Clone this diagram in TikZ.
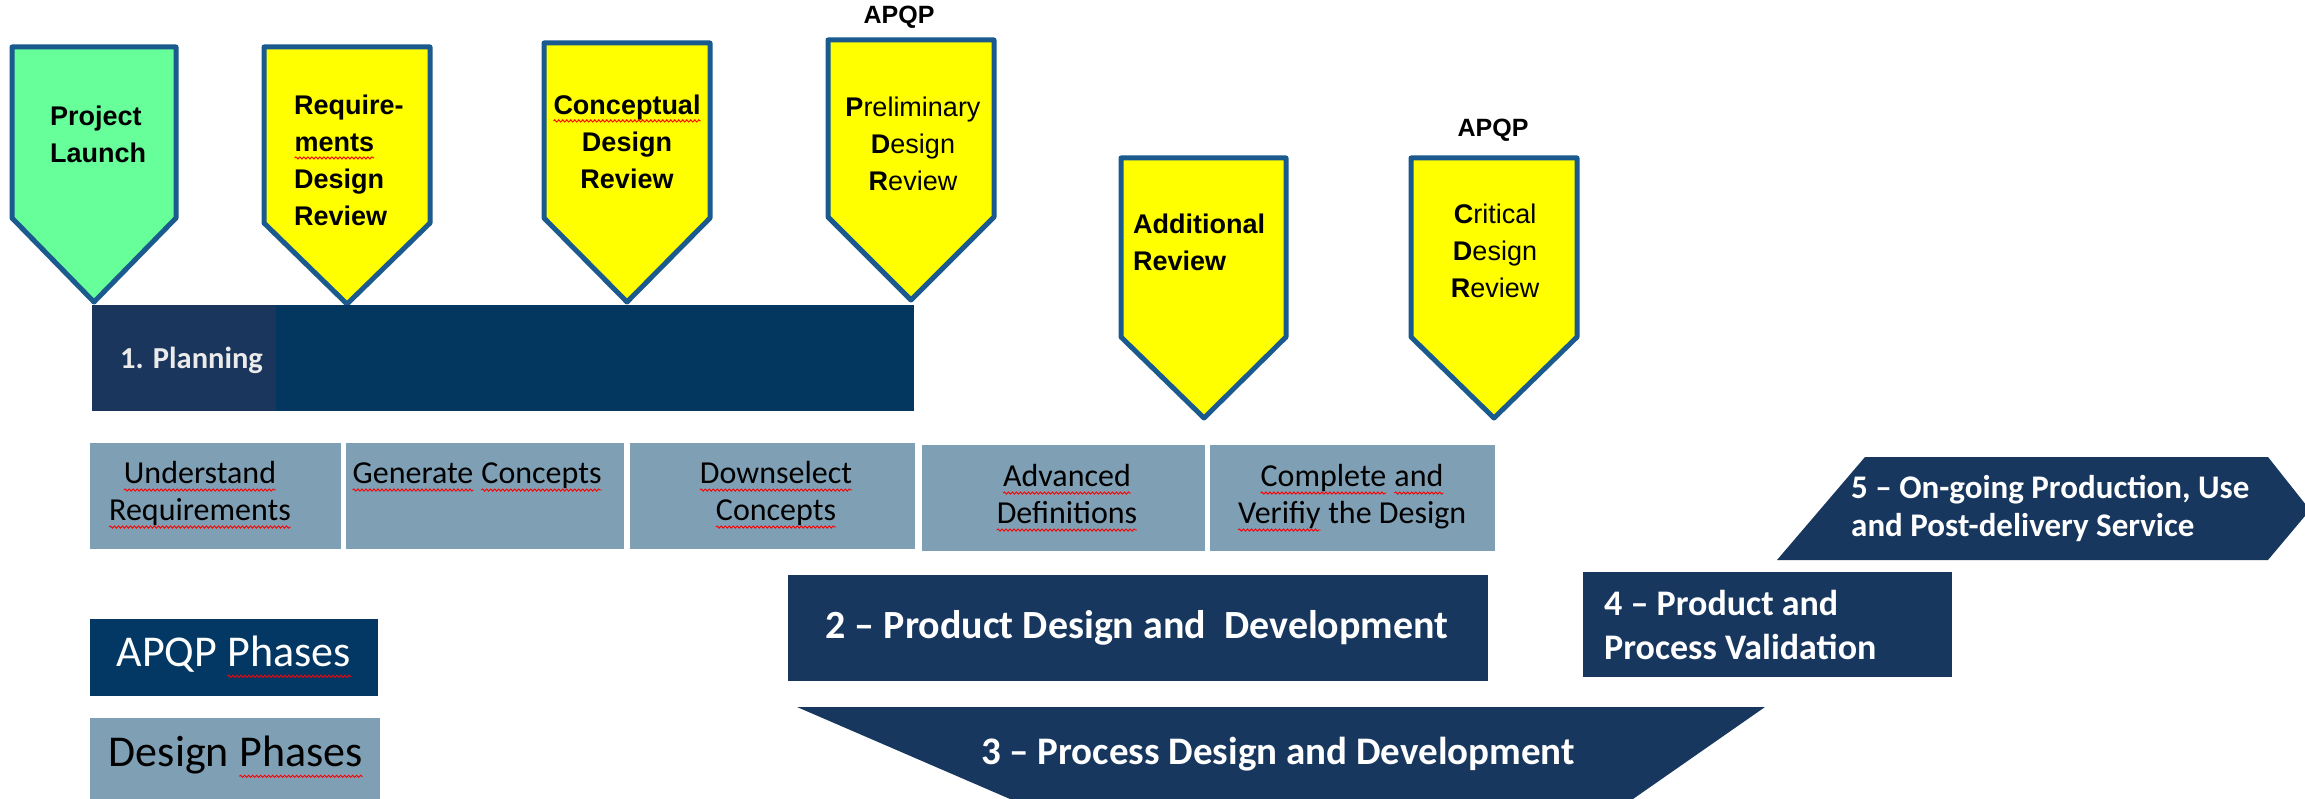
\documentclass[tikz,border=0pt]{standalone}
\usepackage{fontspec}
\setmainfont{Liberation Sans}
\newfontfamily\carl{Carlito}
\usetikzlibrary{decorations.pathmorphing}
\definecolor{navy}{HTML}{17375E}
\definecolor{barblue}{HTML}{03375F}
\definecolor{planblue}{HTML}{1B365D}
\definecolor{apqpblue}{HTML}{033864}
\definecolor{greyblue}{HTML}{7F9FB4}
\definecolor{gateblue}{HTML}{1A5A8E}
\definecolor{gategreen}{HTML}{66FF99}
\definecolor{gateyellow}{HTML}{FFFF00}
\newcommand\sq[1]{\tikz[baseline=(w.base)]{\node[inner sep=0pt,outer sep=0pt](w){#1};\draw[red,line width=0.9pt,decorate,decoration={snake,amplitude=1.1pt,segment length=4pt}]([yshift=-0.22em]w.base west)--([yshift=-0.22em]w.base east);}}
\newcommand\gatefont{\fontsize{27}{37}\selectfont}
\begin{document}
\begin{tikzpicture}[x=1pt,y=-1pt,
  gate/.style={draw=gateblue,line width=5pt,line join=round},
  gatetxt/.style={inner sep=0pt,font=\gatefont},
  apqp/.style={inner sep=0pt,font=\fontsize{25}{30}\selectfont\bfseries},
  dphase/.style={fill=greyblue},
  dtxt/.style={inner sep=0pt,font=\carl\fontsize{32}{37}\selectfont},
  ptxt/.style={inner sep=0pt,text=white,font=\carl\bfseries}]
\fill[white] (0,0) rectangle (2305,799);
\useasboundingbox (0,0) rectangle (2305,799);

% gates
\draw[gate,fill=gategreen] (12,47) -- (176,47) -- (176,218) -- (94,302) -- (12,218) -- cycle;
\draw[gate,fill=gateyellow] (264,47) -- (430,47) -- (430,223) -- (347,304) -- (264,223) -- cycle;
\draw[gate,fill=gateyellow] (544,43) -- (710,43) -- (710,218) -- (627,302) -- (544,218) -- cycle;
\draw[gate,fill=gateyellow] (828,40) -- (994,40) -- (994,217) -- (911,300) -- (828,217) -- cycle;
\draw[gate,fill=gateyellow] (1121,158) -- (1286,158) -- (1286,337) -- (1204,418) -- (1121,337) -- cycle;
\draw[gate,fill=gateyellow] (1411,158) -- (1577,158) -- (1577,337) -- (1494,418) -- (1411,337) -- cycle;

% (base anchor = baseline of last line)
\node[gatetxt,anchor=base west,align=left,font=\gatefont\bfseries] (pl) at (50,163) {Project\\Launch};
\node[gatetxt,anchor=base west,align=left,font=\gatefont\bfseries] (rdr) at (294,226) {Require-\\\sq{ments}\\Design\\Review};
\node[gatetxt,anchor=base,align=center,font=\gatefont\bfseries] (cdr) at (627,189) {\sq{Conceptual}\\Design\\Review};
\node[gatetxt,anchor=base,align=center] (pdr) at (913,191) {\textbf{P}reliminary\\\textbf{D}esign\\\textbf{R}eview};
\node[gatetxt,anchor=base west,align=left,font=\gatefont\bfseries] (ar) at (1133,271) {Additional\\Review};
\node[gatetxt,anchor=base,align=center] (crit) at (1495,298) {\textbf{C}ritical\\\textbf{D}esign\\\textbf{R}eview};
\node[apqp] (apqp1) at (899,17) {APQP};
\node[apqp] (apqp2) at (1493,130) {APQP};

% planning bar
\fill[barblue] (92,305) rectangle (914,411);
\fill[planblue] (92,305) rectangle (276,411);
\node[ptxt,anchor=west,font=\carl\bfseries\fontsize{30.5}{35}\selectfont,text=white!92!black] (plan) at (120,360) {1. Planning};

% design phases
\fill[dphase] (90,443) rectangle (341,549);
\fill[dphase] (346,443) rectangle (624,549);
\fill[dphase] (630,443) rectangle (915,549);
\fill[dphase] (922,445) rectangle (1205,551);
\fill[dphase] (1210,445) rectangle (1495,551);
\node[dtxt,anchor=base,align=center] (ur) at (200,520) {\sq{Understand}\\\sq{Requirements}};
\node[dtxt,anchor=base west] (gc) at (352,483) {\sq{Generate} \sq{Concepts}};
\node[dtxt,anchor=base,align=center] (dc) at (776,520) {\sq{Downselect}\\\sq{Concepts}};
\node[dtxt,anchor=base,align=center] (ad) at (1067,523) {\sq{Advanced}\\\sq{Definitions}};
\node[dtxt,anchor=base,align=center] (cv) at (1352,523) {\sq{Complete} \sq{and}\\\sq{Verifiy} the Design};

% APQP phases
\fill[navy] (788,575) rectangle (1488,681);
\node[ptxt,font=\carl\bfseries\fontsize{40}{46}\selectfont] (p2) at (1137,628) {2 – Product Design and\ \ Development};
\fill[navy] (797,707) -- (1765,707) -- (1633,799) -- (1010,799) -- cycle;
\node[ptxt,font=\carl\bfseries\fontsize{39}{46}\selectfont] (p3) at (1278,754) {3 – Process Design and Development};
\fill[navy] (1583,572) rectangle (1952,677);
\node[ptxt,anchor=west,align=left,font=\carl\bfseries\fontsize{36}{44}\selectfont] (p4) at (1604,625) {4 – Product and\\Process Validation};
\fill[navy] (1865,457) -- (2268,457) -- (2310,510) -- (2268,560) -- (1777,560) -- cycle;
\node[ptxt,anchor=west,align=left,font=\carl\bfseries\fontsize{33}{38}\selectfont] (p5) at (1851,508) {5 – On-going Production, Use\\and Post-delivery Service};

% legend
\fill[apqpblue] (90,619) rectangle (378,696);
\node[inner sep=0pt,text=white,font=\carl\fontsize{44}{50}\selectfont] (lg1) at (234,657) {APQP \sq{Phases}};
\fill[greyblue] (90,718) rectangle (380,799);
\node[inner sep=0pt,font=\carl\fontsize{44}{50}\selectfont] (lg2) at (236,757) {Design \sq{Phases}};
\end{tikzpicture}
\end{document}
